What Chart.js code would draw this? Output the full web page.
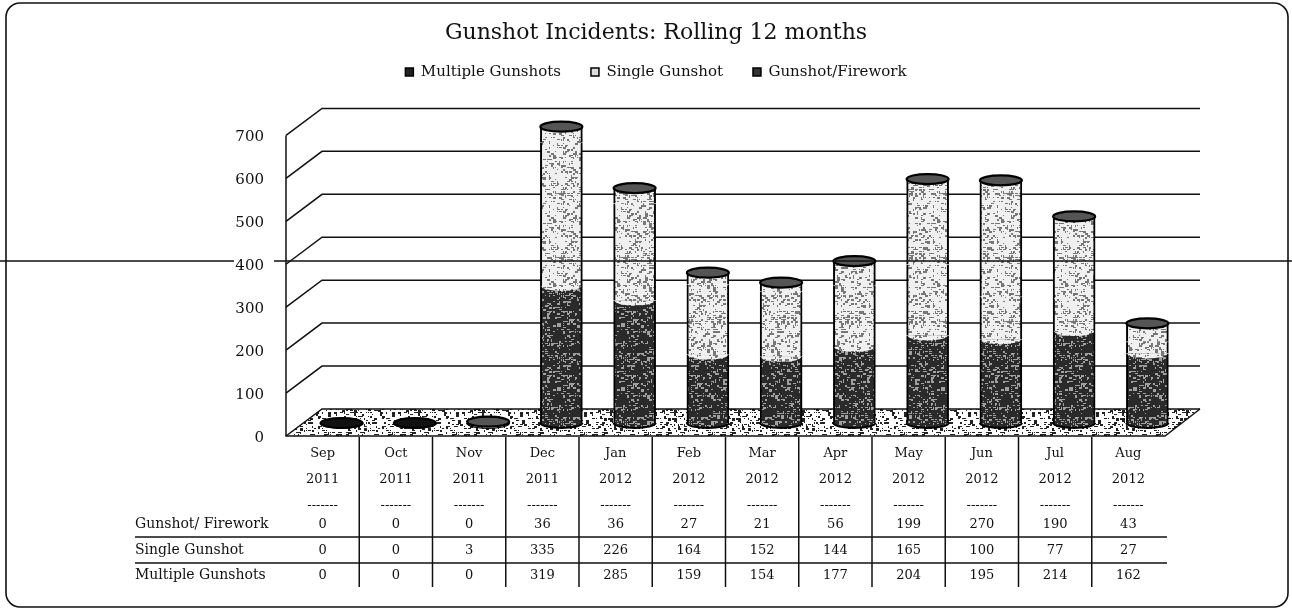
<!DOCTYPE html>
<html>
<head>
<meta charset="utf-8">
<title>Gunshot Incidents</title>
<script src="https://cdn.jsdelivr.net/npm/chart.js@4/dist/chart.umd.js"></script>
<style>
  html, body { margin: 0; padding: 0; background: #fff; }
  canvas { display: block; }
</style>
</head>
<body>
<canvas id="chart" width="1292" height="612"></canvas>
<script>
const months = ["Sep", "Oct", "Nov", "Dec", "Jan", "Feb", "Mar", "Apr", "May", "Jun", "Jul", "Aug"];
const years = ["2011", "2011", "2011", "2011", "2012", "2012", "2012", "2012", "2012", "2012", "2012", "2012"];
const firework = [0, 0, 0, 36, 36, 27, 21, 56, 199, 270, 190, 43];
const single = [0, 0, 3, 335, 226, 164, 152, 144, 165, 100, 77, 27];
const multiple = [0, 0, 0, 319, 285, 159, 154, 177, 204, 195, 214, 162];
const rowNames = ["Gunshot/ Firework", "Single Gunshot", "Multiple Gunshots"];

const serif = "'DejaVu Serif', serif";
Chart.defaults.font.family = serif;
Chart.defaults.color = "#111";

// speckled fills, the original is a scanned 1-bit print
function texture(paper, ink, density, seed) {
  const c = document.createElement("canvas");
  c.width = c.height = 64;
  const g = c.getContext("2d");
  g.fillStyle = paper;
  g.fillRect(0, 0, 64, 64);
  g.fillStyle = ink;
  let s = seed;
  for (let y = 0; y < 64; y += 2) {
    for (let x = 0; x < 64; x += 2) {
      s = (s * 1103515 + 12345) % 2147483;
      if ((s % 100) / 100 < density) g.fillRect(x, y, 1 + s % 3, 1 + (s >> 3) % 2);
    }
  }
  return g.createPattern(c, "repeat");
}

const ctx = document.getElementById("chart").getContext("2d");
const darkFill = texture("#2a2a2a", "#a0a0a0", 0.3, 7);
const lightFill = texture("#f0f0f0", "#777777", 0.34, 91);
const floorFill = texture("#ffffff", "#222222", 0.32, 33);

const depthX = 36, depthY = 27;
const rightWall = 1200;

const wall3d = {
  id: "wall3d",
  beforeDraw(chart) {
    const c = chart.ctx;
    c.save();
    c.strokeStyle = "#111";
    c.lineWidth = 1.6;
    c.beginPath();
    c.roundRect(6, 3, 1282, 604, 14);
    c.stroke();
    c.restore();
  },
  beforeDatasetsDraw(chart) {
    const c = chart.ctx, y = chart.scales.y, a = chart.chartArea;
    c.save();
    // floor
    c.fillStyle = floorFill;
    c.beginPath();
    c.moveTo(a.left, a.bottom);
    c.lineTo(a.left + depthX, a.bottom - depthY);
    c.lineTo(rightWall, a.bottom - depthY);
    c.lineTo(a.right, a.bottom);
    c.closePath();
    c.fill();
    // back wall lines and the slanted side wall
    c.strokeStyle = "#111";
    c.lineWidth = 1.5;
    y.ticks.forEach(t => {
      const py = y.getPixelForValue(t.value);
      c.beginPath();
      c.moveTo(a.left, py);
      c.lineTo(a.left + depthX, py - depthY);
      c.lineTo(rightWall, py - depthY);
      c.stroke();
    });
    c.beginPath();
    c.moveTo(a.left, a.top);
    c.lineTo(a.left, a.bottom);
    c.lineTo(a.right, a.bottom);
    c.lineTo(rightWall, a.bottom - depthY);
    c.stroke();
    // bars stand half way into the floor
    c.translate(19, -13);
  },
  afterDatasetsDraw(chart) {
    const c = chart.ctx;
    const fills = [darkFill, lightFill, lightFill];
    months.forEach((m, j) => {
      const rx = 21, ry = 5;
      let top = null;
      chart.data.datasets.forEach((ds, i) => {
        const bar = chart.getDatasetMeta(i).data[j];
        if (i === 0) {
          c.fillStyle = fills[0];
          c.strokeStyle = "#000";
          c.lineWidth = 2;
          c.beginPath();
          c.ellipse(bar.x, bar.base, rx, ry, 0, 0, Math.PI);
          c.fill();
          c.stroke();
        }
        if (ds.data[j] > 0) {
          if (i > 0) {
            c.fillStyle = fills[i];
            c.beginPath();
            c.ellipse(bar.x, bar.base, rx - 1, ry, 0, 0, Math.PI);
            c.fill();
          }
          top = bar;
        }
      });
      const bar = top || chart.getDatasetMeta(0).data[j];
      c.fillStyle = top ? "#555" : "#111";
      c.strokeStyle = "#000";
      c.lineWidth = 2.2;
      c.beginPath();
      c.ellipse(bar.x, bar.y, rx, ry, 0, 0, Math.PI * 2);
      c.fill();
      c.stroke();
    });
    c.restore();
  },
  afterDraw(chart) {
    const c = chart.ctx, x = chart.scales.x, a = chart.chartArea;
    c.save();
    c.strokeStyle = "#111";
    // cell dividers under the floor
    c.lineWidth = 1.5;
    for (let j = 1; j < months.length; j++) {
      const px = (x.getPixelForTick(j - 1) + x.getPixelForTick(j)) / 2;
      c.beginPath();
      c.moveTo(px, a.bottom + 1);
      c.lineTo(px, 587);
      c.stroke();
    }
    [537, 563].forEach(py => {
      c.beginPath();
      c.moveTo(135, py);
      c.lineTo(a.right + 2, py);
      c.stroke();
    });
    // data table rows
    c.fillStyle = "#111";
    c.textBaseline = "middle";
    const rows = [firework, single, multiple];
    const rowY = [524, 550, 575];
    rows.forEach((row, i) => {
      c.font = "14px " + serif;
      c.textAlign = "left";
      c.fillText(rowNames[i], 135, rowY[i]);
      c.font = "13px " + serif;
      c.textAlign = "center";
      row.forEach((v, j) => c.fillText(v, x.getPixelForTick(j), rowY[i] + 1));
    });
    // fold line running across the scan
    c.lineWidth = 1.3;
    c.beginPath();
    c.moveTo(0, 261);
    c.lineTo(234, 261);
    c.moveTo(274, 261);
    c.lineTo(1292, 261);
    c.stroke();
    c.restore();
  }
};

new Chart(ctx, {
  type: "bar",
  plugins: [wall3d],
  data: {
    labels: months.map((m, i) => [m, years[i], "-------"]),
    datasets: [
      { label: "Multiple Gunshots", data: multiple, backgroundColor: darkFill },
      { label: "Single Gunshot", data: single, backgroundColor: lightFill },
      { label: "Gunshot/Firework", data: firework, backgroundColor: lightFill }
    ]
  },
  options: {
    responsive: false,
    animation: false,
    layout: { padding: { left: 20, right: 0, top: 0, bottom: 0 } },
    datasets: {
      bar: {
        barThickness: 42,
        borderColor: "#000",
        borderWidth: { left: 2, right: 2, top: 0, bottom: 0 },
        borderSkipped: false,
        clip: false
      }
    },
    scales: {
      x: {
        stacked: true,
        grid: { display: false },
        border: { display: false },
        ticks: {
          autoSkip: false,
          maxRotation: 0,
          padding: -3,
          font: { size: 13, lineHeight: 2 }
        },
        afterFit: s => { s.height = 176; }
      },
      xTop: {
        type: "category",
        axis: "x",
        position: "top",
        grid: { display: false },
        border: { display: false },
        ticks: { display: false },
        afterFit: s => { s.height = 46; }
      },
      y: {
        stacked: true,
        min: 0,
        max: 700,
        grid: { display: false },
        border: { display: false },
        ticks: {
          stepSize: 100,
          padding: 14,
          labelOffset: 2,
          font: { size: 15 }
        },
        afterFit: s => { s.width = 266; }
      },
      y2: {
        position: "right",
        min: 0,
        max: 700,
        grid: { display: false },
        border: { display: false },
        ticks: { display: false },
        afterFit: s => { s.width = 127; }
      }
    },
    plugins: {
      title: {
        display: true,
        text: "Gunshot Incidents: Rolling 12 months",
        font: { size: 22, weight: "normal" },
        color: "#111",
        padding: { top: 20, bottom: -12 }
      },
      legend: {
        position: "top",
        labels: {
          boxWidth: 8,
          boxHeight: 8,
          padding: 30,
          font: { size: 15 },
          color: "#111",
          generateLabels(chart) {
            const items = Chart.defaults.plugins.legend.labels.generateLabels(chart);
            const swatches = ["#222", "#ddd", "#333"];
            items.forEach((it, i) => { it.fillStyle = swatches[i]; it.strokeStyle = "#000"; it.lineWidth = 1.5; });
            return items;
          }
        }
      },
      tooltip: { enabled: false }
    }
  }
});
</script>
</body>
</html>
